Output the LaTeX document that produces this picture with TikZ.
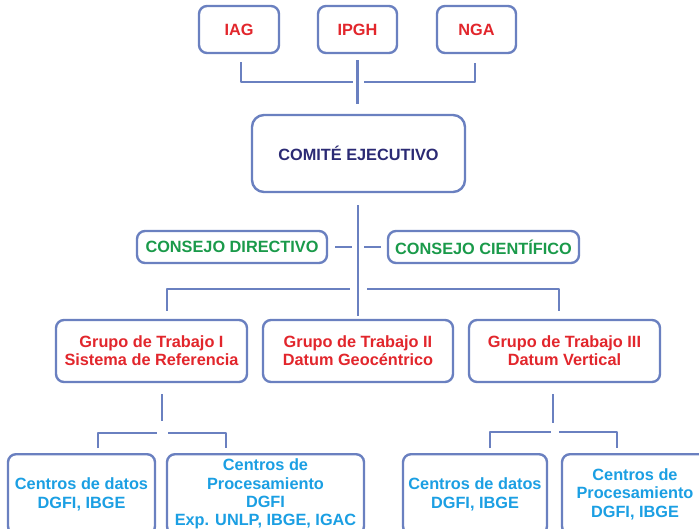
\documentclass[tikz,border=0pt]{standalone}
\usepackage{fontspec}
\setmainfont{Liberation Sans}
\definecolor{linea}{HTML}{6A80C0}
\definecolor{rojo}{HTML}{E2262C}
\definecolor{marino}{HTML}{2B2A74}
\definecolor{verde}{HTML}{1A9A4A}
\definecolor{celeste}{HTML}{1B9FE3}
\tikzset{
	caja/.style={draw=linea, line width=2.4pt, rounded corners=8pt, fill=white,
		align=center, inner sep=0pt, font=\fontsize{16.3}{18.3}\selectfont\bfseries},
	conector/.style={draw=linea, line width=2.6pt}
}
\begin{document}
\begin{tikzpicture}[x=1pt, y=-1pt, line join=round]
			%% Definir marco
			\def\ancho{699}
			\def\alto{528}
			\useasboundingbox (0,0) rectangle (\ancho,\alto);
			\clip (0,0) rectangle (\ancho,\alto);
			%% Instituciones
			\node [caja, text=rojo, minimum width=80pt, minimum height=47pt] (iag) at (239,29.5) {IAG};
			\node [caja, text=rojo, minimum width=79pt, minimum height=47pt] (ipgh) at (357.5,29.5) {IPGH};
			\node [caja, text=rojo, minimum width=79pt, minimum height=47pt] (nga) at (476.5,29.5) {NGA};
			%% Comite y consejos
			\node [caja, text=marino, rounded corners=12pt, minimum width=213pt, minimum height=77pt] (comite) at (358.5,153.5) {COMITÉ EJECUTIVO};
			\node [caja, text=verde, minimum width=190pt, minimum height=32pt] (cdir) at (232,247) {CONSEJO DIRECTIVO};
			\node [caja, text=verde, minimum width=191pt, minimum height=32pt] (ccie) at (483.5,247) {CONSEJO CIENTÍFICO};
			%% Grupos de trabajo
			\node [caja, text=rojo, minimum width=191pt, minimum height=62pt] (gt1) at (151.5,351) {Grupo de Trabajo I\\Sistema de Referencia};
			\node [caja, text=rojo, minimum width=190pt, minimum height=62pt] (gt2) at (358,351) {Grupo de Trabajo II\\Datum Geocéntrico};
			\node [caja, text=rojo, minimum width=191pt, minimum height=62pt] (gt3) at (564.5,351) {Grupo de Trabajo III\\Datum Vertical};
			%% Centros
			\node [caja, text=celeste, minimum width=147pt, minimum height=80pt, anchor=north] (dat1) at (81.5,453) {Centros de datos\\DGFI, IBGE};
			\node [caja, text=celeste, minimum width=197pt, minimum height=80pt, anchor=north] (proc1) at (265.5,453) {Centros de\\Procesamiento\\DGFI\\Exp. UNLP, IBGE, IGAC};
			\node [caja, text=celeste, minimum width=144pt, minimum height=80pt, anchor=north] (dat2) at (475,453) {Centros de datos\\DGFI, IBGE};
			\node [caja, text=celeste, minimum width=146pt, minimum height=80pt, anchor=north] (proc2) at (635,453) {Centros de\\Procesamiento\\DGFI, IBGE};
			%% Puntos de union
			\coordinate (u1) at (358,82);
			\coordinate (u2) at (358,289);
			\coordinate (u3) at (162,433);
			\coordinate (u4) at (553,432);
			%% Conectores
			\draw [conector] ([xshift=2pt, yshift=-8pt]iag.south) |- ([xshift=-5pt]u1)
			([xshift=-1.5pt, yshift=-9pt]nga.south) |- ([xshift=6pt]u1)
			([yshift=-6pt]ipgh.south) -- ++(0,44);
			\draw [conector] ([xshift=-0.5pt, yshift=-12pt]comite.south) -- ++(0,111)
			([xshift=7pt]cdir.east) -- ([xshift=24pt]cdir.east)
			([xshift=-6pt]ccie.west) -- ([xshift=-23pt]ccie.west)
			([xshift=15.5pt, yshift=8pt]gt1.north) |- ([xshift=-8pt]u2)
			([xshift=9pt]u2) -| ([xshift=-5.5pt, yshift=8pt]gt3.north);
			\draw [conector] ([xshift=10.5pt, yshift=-11pt]gt1.south) -- ([yshift=12pt]u3)
			([xshift=16.5pt, yshift=5pt]dat1.north) |- ([xshift=-5pt]u3)
			([xshift=6pt]u3) -| ([xshift=-39.5pt, yshift=5pt]proc1.north);
			\draw [conector] ([xshift=-11.5pt, yshift=-11pt]gt3.south) -- ([yshift=9pt]u4)
			([xshift=15pt, yshift=5pt]dat2.north) |- ([xshift=-2pt]u4)
			([xshift=6pt]u4) -| ([xshift=-18pt, yshift=5pt]proc2.north);
\end{tikzpicture}
\end{document}
